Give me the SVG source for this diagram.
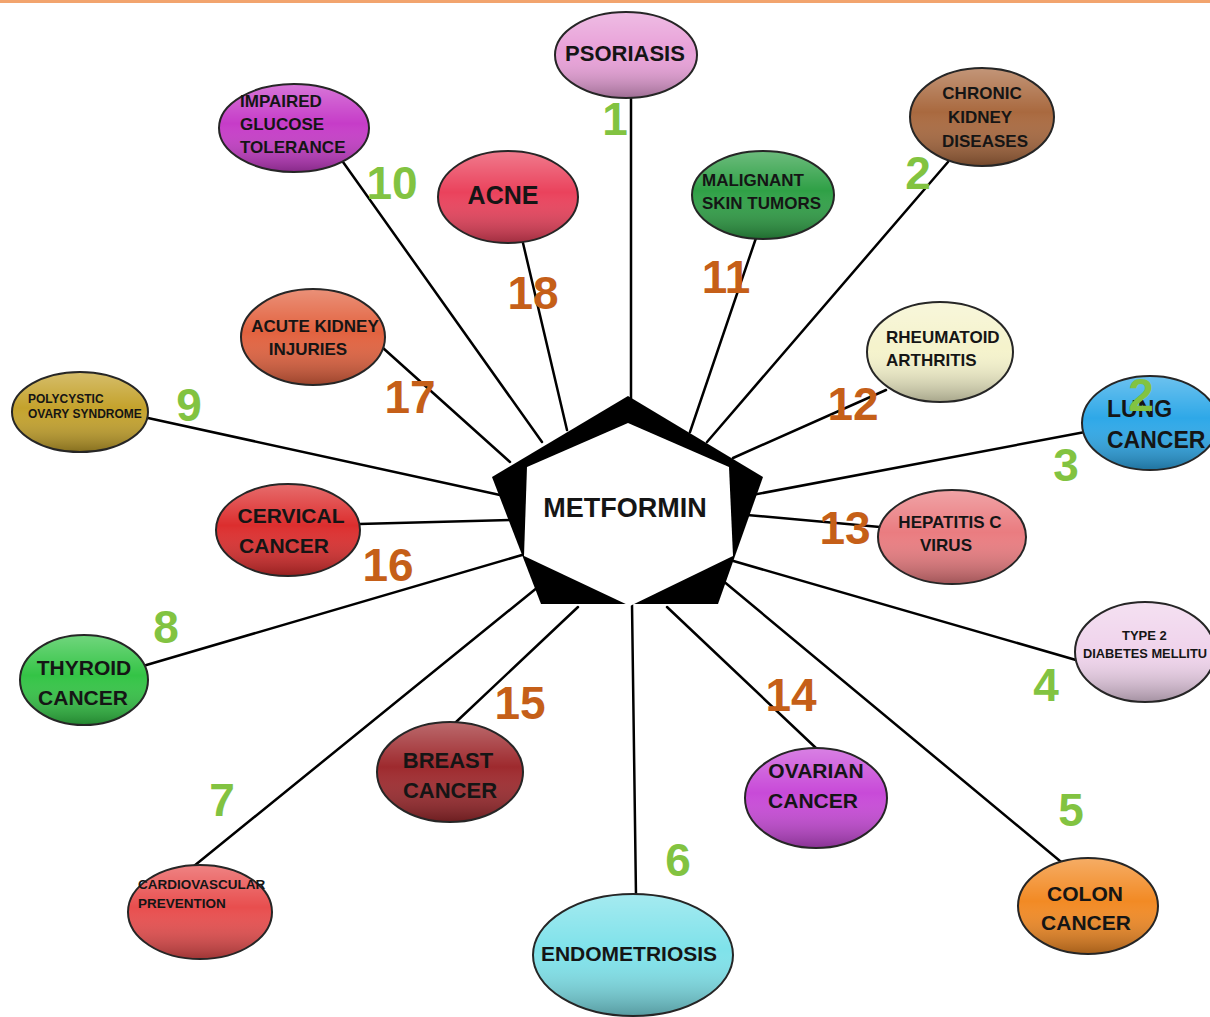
<svg xmlns="http://www.w3.org/2000/svg" width="1210" height="1017" viewBox="0 0 1210 1017">
<defs>
<linearGradient id="shade" x1="0" y1="0" x2="0" y2="1">
<stop offset="0" stop-color="#fff" stop-opacity="0.3"/>
<stop offset="0.45" stop-color="#fff" stop-opacity="0"/>
<stop offset="1" stop-color="#000" stop-opacity="0.32"/>
</linearGradient>
</defs>
<style>
.bg{fill:#fff}
.c line{stroke:#000;stroke-width:2.5;stroke-linecap:round}
.sh{fill:url(#shade);stroke:#262626;stroke-width:2}
.t{font-family:"Liberation Sans",Arial,sans-serif;font-weight:bold;fill:#151515;dominant-baseline:central}
.m{text-anchor:middle}
.num{font-family:"Liberation Sans",Arial,sans-serif;font-weight:bold;font-size:46px;text-anchor:middle;dominant-baseline:central}
.g{fill:#82c341}
.o{fill:#c55f18}
</style>
<rect class="bg" width="1210" height="1017"/>
<rect x="0" y="0" width="1210" height="3" fill="#f2a46e"/>

<g id="connectors" class="c">
<line x1="631" y1="400" x2="631" y2="97"/>
<line x1="707" y1="442" x2="948" y2="162"/>
<line x1="690" y1="432" x2="756" y2="238"/>
<line x1="733" y1="458" x2="886" y2="390"/>
<line x1="752" y1="495" x2="1085" y2="432"/>
<line x1="747" y1="515" x2="880" y2="527"/>
<line x1="730" y1="560" x2="1076" y2="660"/>
<line x1="722" y1="580" x2="1078" y2="876"/>
<line x1="667" y1="607" x2="817" y2="749"/>
<line x1="632" y1="604" x2="636" y2="896"/>
<line x1="578" y1="607" x2="455" y2="723"/>
<line x1="538" y1="587" x2="194" y2="866"/>
<line x1="522" y1="555" x2="143" y2="666"/>
<line x1="510" y1="520" x2="359" y2="524"/>
<line x1="500" y1="495" x2="148" y2="418"/>
<line x1="510" y1="462" x2="383" y2="348"/>
<line x1="542" y1="442" x2="343" y2="162"/>
<line x1="567" y1="430" x2="523" y2="243"/>
</g>

<g id="metformin">
<polygon points="628,396 763,477 718,604 541,604 492,477" fill="#000"/>
<polygon points="628,423 729,467 733,556 630,606 524,556 527,467" fill="#fff"/>
<text class="t m" x="625" y="508" font-size="27">METFORMIN</text>
</g>

<g id="n1">
<ellipse cx="626" cy="55" rx="71" ry="43" fill="#e8a0d8"/>
<ellipse class="sh" cx="626" cy="55" rx="71" ry="43"/>
<text class="t m" x="625" y="53" font-size="22">PSORIASIS</text>
</g>
<g id="n2">
<ellipse cx="982" cy="117" rx="72" ry="49" fill="#a9693f"/>
<ellipse class="sh" cx="982" cy="117" rx="72" ry="49"/>
<text class="t m" font-size="17"><tspan x="982" y="93">CHRONIC</tspan><tspan x="980" y="117">KIDNEY</tspan><tspan x="985" y="141">DISEASES</tspan></text>
</g>
<g id="n3">
<ellipse cx="1150" cy="423" rx="68" ry="47" fill="#2ea8e8"/>
<ellipse class="sh" cx="1150" cy="423" rx="68" ry="47"/>
<text class="t" font-size="23"><tspan x="1107" y="409">LUNG</tspan><tspan x="1107" y="440">CANCER</tspan></text>
</g>
<g id="n4">
<ellipse cx="1145" cy="652" rx="70" ry="50" fill="#f0d4ec"/>
<ellipse class="sh" cx="1145" cy="652" rx="70" ry="50"/>
<text class="t" font-size="13"><tspan x="1122" y="635">TYPE 2</tspan><tspan x="1083" y="653" textLength="124" lengthAdjust="spacingAndGlyphs">DIABETES MELLITU</tspan></text>
</g>
<g id="n5">
<ellipse cx="1088" cy="906" rx="70" ry="48" fill="#f28a24"/>
<ellipse class="sh" cx="1088" cy="906" rx="70" ry="48"/>
<text class="t m" font-size="21"><tspan x="1085" y="893">COLON</tspan><tspan x="1086" y="922">CANCER</tspan></text>
</g>
<g id="n6">
<ellipse cx="633" cy="955" rx="100" ry="61" fill="#7fe2ea"/>
<ellipse class="sh" cx="633" cy="955" rx="100" ry="61"/>
<text class="t m" x="629" y="953" font-size="21">ENDOMETRIOSIS</text>
</g>
<g id="n7">
<ellipse cx="200" cy="912" rx="72" ry="47" fill="#e84e4e"/>
<ellipse class="sh" cx="200" cy="912" rx="72" ry="47"/>
<text class="t" font-size="13.5"><tspan x="138" y="884">CARDIOVASCULAR</tspan><tspan x="138" y="903">PREVENTION</tspan></text>
</g>
<g id="n8">
<ellipse cx="84" cy="680" rx="64" ry="45" fill="#34c446"/>
<ellipse class="sh" cx="84" cy="680" rx="64" ry="45"/>
<text class="t m" font-size="21"><tspan x="84" y="667">THYROID</tspan><tspan x="83" y="697">CANCER</tspan></text>
</g>
<g id="n9">
<ellipse cx="80" cy="412" rx="68" ry="40" fill="#c4a22c"/>
<ellipse class="sh" cx="80" cy="412" rx="68" ry="40"/>
<text class="t" font-size="12"><tspan x="28" y="399">POLYCYSTIC</tspan><tspan x="28" y="414">OVARY SYNDROME</tspan></text>
</g>
<g id="n10">
<ellipse cx="294" cy="128" rx="75" ry="44" fill="#c63cc8"/>
<ellipse class="sh" cx="294" cy="128" rx="75" ry="44"/>
<text class="t" font-size="17"><tspan x="240" y="101">IMPAIRED</tspan><tspan x="240" y="124">GLUCOSE</tspan><tspan x="240" y="147">TOLERANCE</tspan></text>
</g>
<g id="n11">
<ellipse cx="763" cy="195" rx="71" ry="44" fill="#2fa046"/>
<ellipse class="sh" cx="763" cy="195" rx="71" ry="44"/>
<text class="t" font-size="17"><tspan x="702" y="180">MALIGNANT</tspan><tspan x="702" y="203">SKIN TUMORS</tspan></text>
</g>
<g id="n12">
<ellipse cx="940" cy="352" rx="73" ry="50" fill="#f5f3cc"/>
<ellipse class="sh" cx="940" cy="352" rx="73" ry="50"/>
<text class="t" font-size="17"><tspan x="886" y="337">RHEUMATOID</tspan><tspan x="886" y="360">ARTHRITIS</tspan></text>
</g>
<g id="n13">
<ellipse cx="952" cy="537" rx="74" ry="47" fill="#ea7c80"/>
<ellipse class="sh" cx="952" cy="537" rx="74" ry="47"/>
<text class="t m" font-size="17"><tspan x="950" y="522">HEPATITIS C</tspan><tspan x="946" y="545">VIRUS</tspan></text>
</g>
<g id="n14">
<ellipse cx="816" cy="798" rx="71" ry="50" fill="#c84ad8"/>
<ellipse class="sh" cx="816" cy="798" rx="71" ry="50"/>
<text class="t m" font-size="21"><tspan x="816" y="770">OVARIAN</tspan><tspan x="813" y="800">CANCER</tspan></text>
</g>
<g id="n15">
<ellipse cx="450" cy="772" rx="73" ry="50" fill="#9e2a2e"/>
<ellipse class="sh" cx="450" cy="772" rx="73" ry="50"/>
<text class="t m" font-size="22"><tspan x="448" y="760">BREAST</tspan><tspan x="450" y="790">CANCER</tspan></text>
</g>
<g id="n16">
<ellipse cx="288" cy="530" rx="72" ry="46" fill="#dc2e2e"/>
<ellipse class="sh" cx="288" cy="530" rx="72" ry="46"/>
<text class="t m" font-size="21"><tspan x="291" y="515">CERVICAL</tspan><tspan x="284" y="545">CANCER</tspan></text>
</g>
<g id="n17">
<ellipse cx="313" cy="337" rx="72" ry="48" fill="#e2623f"/>
<ellipse class="sh" cx="313" cy="337" rx="72" ry="48"/>
<text class="t m" font-size="17"><tspan x="315" y="326">ACUTE KIDNEY</tspan><tspan x="308" y="349">INJURIES</tspan></text>
</g>
<g id="n18">
<ellipse cx="508" cy="197" rx="70" ry="46" fill="#ea425c"/>
<ellipse class="sh" cx="508" cy="197" rx="70" ry="46"/>
<text class="t m" x="503" y="195" font-size="25">ACNE</text>
</g>

<g id="labels">
<text class="num g" x="615" y="119">1</text>
<text class="num g" x="918" y="173">2</text>
<text class="num g" x="1066" y="465">3</text>
<text class="num g" x="1046" y="685">4</text>
<text class="num g" x="1071" y="810">5</text>
<text class="num g" x="678" y="860">6</text>
<text class="num g" x="222" y="800">7</text>
<text class="num g" x="166" y="627">8</text>
<text class="num g" x="189" y="405">9</text>
<text class="num g" x="392" y="183">10</text>
<text class="num o" x="726" y="277">11</text>
<text class="num o" x="853" y="404">12</text>
<text class="num o" x="845" y="528">13</text>
<text class="num o" x="791" y="695">14</text>
<text class="num o" x="520" y="703">15</text>
<text class="num o" x="388" y="565">16</text>
<text class="num o" x="410" y="397">17</text>
<text class="num o" x="533" y="293">18</text>
<text class="num g" x="1141" y="395" font-size="32" font-weight="normal">2</text>
</g>
</svg>
